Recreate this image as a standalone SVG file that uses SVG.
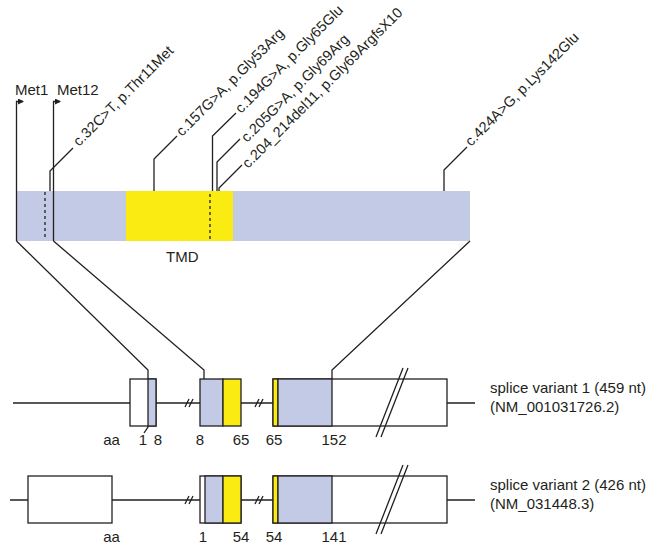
<svg xmlns="http://www.w3.org/2000/svg" width="647" height="546" viewBox="0 0 647 546">
<defs>
<style>
text{font-family:"Liberation Sans",Arial,sans-serif;font-size:15px;fill:#231f20}
.rot{font-size:14.5px}
.ln{fill:none;stroke:#231f20;stroke-width:1.3}
.bx{stroke:#231f20;stroke-width:1.3}
.blue{fill:#c3cae6}
.yel{fill:#faec13}
.wh{fill:#ffffff}
.dash{fill:none;stroke:#231f20;stroke-width:1.3;stroke-dasharray:3 3}
.num{text-anchor:middle}
</style>
<marker id="ah" viewBox="0 0 6 6" refX="5" refY="3" markerWidth="6" markerHeight="6" markerUnits="userSpaceOnUse" orient="auto">
<path d="M0,0 L6,3 L0,6 z" fill="#231f20"/>
</marker>
</defs>
<rect width="647" height="546" fill="#ffffff"/>

<g id="protein-bar">
<rect x="17" y="191" width="453" height="50" class="blue"/>
<rect x="126" y="191" width="107" height="50" class="yel"/>
<line x1="45" y1="192" x2="45" y2="240" class="dash"/>
<line x1="210" y1="194" x2="210" y2="240" class="dash"/>
<text x="166" y="262">TMD</text>
</g>

<g id="met1">
<path d="M16.5 241 V101.5 H23" class="ln" marker-end="url(#ah)"/>
<text x="15" y="95">Met1</text>
</g>
<g id="met12">
<path d="M53.5 241 V101.5 H60" class="ln" marker-end="url(#ah)"/>
<text x="57" y="95">Met12</text>
</g>

<g id="mut-c32">
<path d="M50 191 V171 L73 148" class="ln"/>
<text class="rot" transform="translate(79,147) rotate(-45)">c.32C&gt;T, p.Thr11Met</text>
</g>
<g id="mut-c157">
<path d="M154 191 V159 L177 136" class="ln"/>
<text class="rot" transform="translate(182,137) rotate(-45)">c.157G&gt;A, p.Gly53Arg</text>
</g>
<g id="mut-c194">
<path d="M212.5 191 V136 L236 113" class="ln"/>
<text class="rot" transform="translate(241,114) rotate(-45)">c.194G&gt;A, p.Gly65Glu</text>
</g>
<g id="mut-c205">
<path d="M217 191 V162 L240 139" class="ln"/>
<text class="rot" transform="translate(247,143) rotate(-45)">c.205G&gt;A, p.Gly69Arg</text>
</g>
<g id="mut-c204">
<path d="M219 191 V188 L242 165" class="ln"/>
<text class="rot" transform="translate(248,169) rotate(-45)">c.204_214del11, p.Gly69ArgfsX10</text>
</g>
<g id="mut-c424">
<path d="M444 191 V170 L467 147" class="ln"/>
<text class="rot" transform="translate(471,147) rotate(-45)">c.424A&gt;G, p.Lys142Glu</text>
</g>

<g id="connectors">
<path d="M16.5 241 L148 370 V427 L144 433" class="ln"/>
<path d="M53.5 241 L204 370 V379" class="ln"/>
<path d="M470 241 L332 370 V379" class="ln"/>
</g>

<g id="variant1">
<line x1="13" y1="403" x2="475" y2="403" class="ln"/>
<path d="M185 407 L189 399 M189 407 L193 399 M255 407 L259 399 M259 407 L263 399" class="ln"/>
<rect x="130" y="379" width="26" height="47" class="bx wh"/>
<rect x="148" y="379" width="8" height="47" class="bx blue"/>
<rect x="200" y="379" width="23" height="47" class="bx blue"/>
<rect x="223" y="379" width="18" height="47" class="bx yel"/>
<rect x="273" y="379" width="174" height="47" class="bx wh"/>
<rect x="273" y="379" width="5" height="47" class="bx yel"/>
<rect x="278" y="379" width="54" height="47" class="bx blue"/>
<path d="M376 437 L403 368 M381 437 L408 368" class="ln"/>
<text x="490" y="393">splice variant 1 (459 nt)</text>
<text x="490" y="412">(NM_001031726.2)</text>
<text class="num" x="111.5" y="445">aa</text>
<text class="num" x="143" y="445">1</text>
<text class="num" x="158" y="445">8</text>
<text class="num" x="200" y="445">8</text>
<text class="num" x="241" y="445">65</text>
<text class="num" x="274" y="445">65</text>
<text class="num" x="334" y="445">152</text>
</g>

<g id="variant2">
<line x1="10" y1="500" x2="475" y2="500" class="ln"/>
<path d="M185 504 L189 496 M189 504 L193 496 M255 504 L259 496 M259 504 L263 496" class="ln"/>
<rect x="28" y="476" width="84" height="47" class="bx wh"/>
<rect x="200" y="476" width="41" height="47" class="bx wh"/>
<rect x="205" y="476" width="18" height="47" class="bx blue"/>
<rect x="223" y="476" width="18" height="47" class="bx yel"/>
<rect x="273" y="476" width="174" height="47" class="bx wh"/>
<rect x="273" y="476" width="5" height="47" class="bx yel"/>
<rect x="278" y="476" width="54" height="47" class="bx blue"/>
<path d="M376 534 L403 465 M381 534 L408 465" class="ln"/>
<text x="490" y="490">splice variant 2 (426 nt)</text>
<text x="490" y="509">(NM_031448.3)</text>
<text class="num" x="111.5" y="542">aa</text>
<text class="num" x="203" y="542">1</text>
<text class="num" x="241" y="542">54</text>
<text class="num" x="274" y="542">54</text>
<text class="num" x="334" y="542">141</text>
</g>
</svg>
